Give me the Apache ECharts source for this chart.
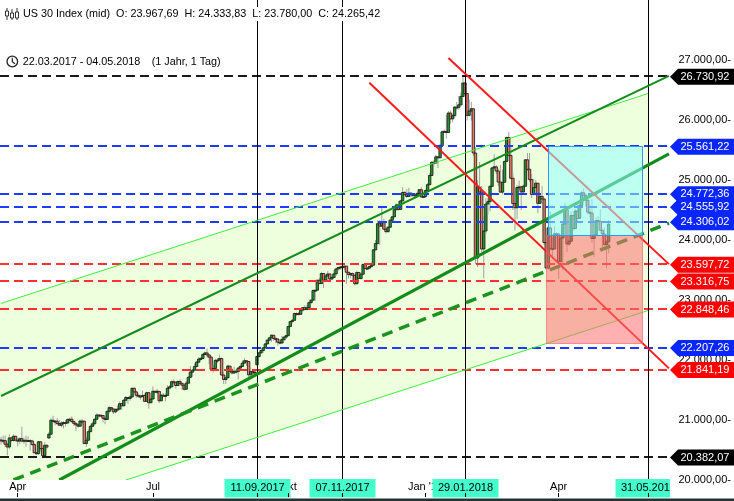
<!DOCTYPE html>
<html><head><meta charset="utf-8">
<script src="https://cdn.jsdelivr.net/npm/echarts@6/dist/echarts.min.js"></script>
<style>html,body{margin:0;padding:0;background:#fff;}#c{width:734px;height:501px;}</style>
</head><body><div id="c"></div>
<script>
// ================= DATA =================
const instrument = 'US 30 Index (mid)';
const periodNote = '(1 Jahr, 1 Tag)';
const startDate = '2017-03-22';
const axisEndDate = '2018-06-14';

// daily candles, one per weekday from startDate
const opens = [
20668,20661,20656, 20596,20550,20701,20659,20728, 20663,20650,20689,20648,20662, 20656,20658,20651,20591,20453,
20440,20637,20524,20404,20578, 20700,20763,20996,20975,20981, 20941,20913,20950,20958,20951, 21007,21013,20975,20943,20919,
20897,20982,20980,20607,20663, 20805,20895,20937,21012,21083, 21080,21075,21029,21009,21144, 21206,21184,21136,21174,21182,
21272,21236,21329,21375,21360, 21384,21529,21468,21411,21397, 21395,21409,21311,21455,21288, 21350,21479,21470,21478,21320,
21414,21409,21409,21532,21553, 21638,21630,21575,21641,21611, 21580,21513,21613,21711,21797, 21830,21891,21964,22016,22026,
22092,22118,22085,22048,21844, 21858,21993,21998,22025,21750, 21675,21703,21899,21812,21783, 21814,21808,21865,21892,21948,
21988,21975,21753,21807,21784, 21920,22057,22119,22158,22203, 22268,22331,22370,22412,22359, 22349,22296,22284,22340,22381,
22405,22557,22641,22661,22775, 22774,22761,22831,22872,22841, 22871,22957,22997,23158,23163, 23329,23274,23441,23330,23400,
23434,23349,23377,23436,23517, 23539,23549,23557,23564,23462, 23422,23440,23410,23272,23458, 23358,23430,23591,23526,23530,
23558,23580,23836,23940,24272, 24231,24290,24180,24140,24212, 24329,24386,24504,24585,24509, 24651,24792,24754,24726,24782,
24754,24750,24746,24774,24838, 24719,24725,24824,24922,25075, 25296,25283,25386,25370,25575, 25803,25810,25792,26116,26018,
26072,26215,26211,26253,26393, 26617,26440,26077,26149,26187, 25450,23700,24880,24800,23850, 24150,24600,24640,24893,25201,
25219,25150,24965,24798,24962, 25310,25709,25410,25029,24608, 24538,24875,24885,24801,24896, 25336,25179,25008,24759,24874,
24947,24611,24727,24683,23958, 23533,24202,23857,23849,24103, 24100,23644,24033,24265,24505, 23933,23979,24408,24190,24483,
24360,24573,24786,24748,24665, 24463,24449,24025,24084,24323, 24311,24163,24100,23925,23967.69];
const highs = [
20720,20740,20740, 20610,20760,20720,20760,20740, 20700,20710,20890,20710,20740, 20730,20680,20670,20620,20470,
20650,20640,20590,20630,20600, 20800,21030,21070,21000,21030, 21000,20980,20980,21000,21030, 21040,21060,20990,20950,20930,
21010,21020,20990,20720,20840, 20920,20970,21030,21110,21100, 21090,21080,21060,21160,21230, 21220,21190,21200,21240,21310,
21290,21350,21400,21380,21410, 21540,21540,21490,21440,21420, 21490,21440,21470,21470,21400, 21560,21490,21520,21480,21440,
21450,21440,21580,21580,21660, 21680,21640,21660,21680,21620, 21600,21650,21730,21900,21850, 21940,21990,22050,22050,22110,
22140,22190,22090,22060,21920, 22020,22030,22090,22040,21800, 21730,21920,21900,21860,21890, 21850,21880,21920,21990,22030,
21995,21980,21860,21840,21840, 22070,22130,22170,22220,22280, 22350,22380,22430,22420,22390, 22360,22350,22400,22390,22420,
22570,22650,22690,22790,22790, 22800,22850,22880,22910,22920, 22970,23010,23180,23170,23340, 23370,23460,23450,23440,23480,
23440,23400,23500,23530,23560, 23570,23600,23580,23570,23470, 23460,23460,23420,23490,23470, 23450,23610,23600,23550,23570,
23620,23850,24000,24330,24330, 24540,24350,24200,24230,24350, 24400,24550,24610,24650,24670, 24880,24820,24850,24870,24790,
24770,24780,24800,24850,24880, 24740,24840,24950,25110,25310, 25330,25420,25390,25600,25830, 25840,26090,26150,26160,26100,
26230,26300,26400,26460,26730, 26640,26440,26340,26300,26200, 25550,25000,25300,24900,24400, 24700,24700,24920,25220,25430,
25250,25190,25250,25170,25320, 25720,25800,25550,25120,24620, 24920,24990,24900,24920,25350, 25450,25450,25100,25020,25000,
24950,24780,24900,24700,24090, 24240,24480,24050,24230,24130, 24120,24050,24300,24620,24520, 24360,24480,24420,24520,24620,
24600,24820,24860,24750,24670, 24590,24680,24120,24380,24400, 24510,24170,24210,24000,24333.83];
const lows = [
20590,20610,20550, 20410,20520,20630,20640,20640, 20560,20600,20630,20600,20560, 20630,20490,20570,20450,20420,
20420,20480,20382,20400,20510, 20690,20760,20950,20910,20920, 20900,20880,20860,20890,20930, 20970,20950,20900,20820,20870,
20890,20920,20600,20550,20650, 20800,20880,20920,21000,21040, 21060,20960,20930,21000,21110, 21160,21100,21110,21140,21160,
21170,21230,21290,21270,21320, 21380,21450,21370,21370,21340, 21380,21300,21300,21190,21280, 21340,21450,21430,21280,21310,
21380,21310,21400,21510,21540, 21610,21520,21570,21580,21500, 21490,21510,21600,21700,21720, 21820,21880,21940,21990,22010,
22080,22040,21930,21830,21790, 21850,21950,21990,21740,21600, 21600,21700,21780,21760,21770, 21770,21680,21840,21890,21940,
21900,21710,21740,21720,21750, 21910,22040,22100,22120,22180, 22260,22310,22300,22320,22280, 22240,22260,22270,22310,22350,
22400,22550,22610,22650,22730, 22740,22750,22800,22830,22840, 22870,22930,22990,22990,23160, 23260,23270,23200,23320,23330,
23320,23340,23370,23400,23480, 23500,23510,23500,23270,23360, 23360,23330,23240,23260,23350, 23340,23420,23510,23510,23510,
23540,23570,23820,23930,23920, 24220,24170,24110,24120,24200, 24310,24380,24500,24490,24500, 24650,24730,24700,24720,24720,
24740,24690,24720,24760,24700, 24700,24700,24800,24910,25060, 25220,25270,25200,25360,25560, 25790,25690,25780,25940,25960,
26030,26160,26170,26240,26380, 26400,25990,26060,25990,25400, 23600,23550,24750,23800,23360, 24100,24420,24480,24890,25180,
25100,24900,24780,24760,24950, 25300,25380,25010,24500,24160, 24350,24820,24500,24750,24890, 25150,24970,24700,24740,24860,
24450,24600,24650,23920,23510, 23500,23820,23700,23840,24080, 23350,23620,23500,24250,23800, 23900,23970,24150,24180,24300,
24350,24560,24700,24550,24420, 24380,23950,23720,24070,24250, 24150,23830,23900,23530,23780.00];
const closes = [
20661,20656,20596, 20550,20701,20659,20728,20663, 20650,20689,20648,20662,20656, 20658,20651,20591,20453,20440,
20637,20524,20404,20578,20548, 20763,20996,20975,20981,20941, 20913,20950,20958,20951,21007, 21013,20975,20943,20919,20897,
20982,20980,20607,20663,20805, 20895,20937,21012,21083,21080, 21075,21029,21009,21144,21206, 21184,21136,21174,21182,21272,
21236,21329,21375,21360,21384, 21529,21468,21411,21397,21395, 21409,21311,21455,21288,21350, 21479,21470,21478,21320,21414,
21409,21409,21532,21553,21638, 21630,21575,21641,21611,21580, 21513,21613,21711,21797,21830, 21891,21964,22016,22026,22092,
22118,22085,22048,21844,21858, 21993,21998,22025,21750,21675, 21703,21899,21812,21783,21814, 21808,21865,21892,21948,21988,
21975,21753,21807,21784,21798, 22057,22119,22158,22203,22268, 22331,22370,22412,22359,22349, 22296,22284,22340,22381,22405,
22557,22641,22661,22775,22774, 22761,22831,22872,22841,22871, 22957,22997,23158,23163,23329, 23274,23441,23330,23400,23434,
23349,23377,23436,23517,23539, 23549,23557,23564,23462,23422, 23440,23410,23272,23458,23358, 23430,23591,23526,23530,23558,
23580,23836,23940,24272,24231, 24290,24180,24140,24212,24329, 24386,24504,24585,24509,24651, 24792,24754,24726,24782,24754,
24750,24746,24774,24838,24719, 24725,24824,24922,25075,25296, 25283,25386,25370,25575,25803, 25810,25792,26116,26018,26072,
26215,26211,26253,26393,26617, 26440,26077,26149,26187,25450, 23700,24880,24800,23850,24150, 24600,24640,24893,25201,25219,
25150,24965,24798,24962,25310, 25709,25410,25029,24608,24538, 24875,24885,24801,24896,25336, 25179,25008,24759,24874,24947,
24611,24727,24683,23958,23533, 24202,23857,23849,24103,24100, 23644,24033,24265,24505,23933, 23979,24408,24190,24483,24360,
24573,24786,24748,24665,24463, 24449,24025,24084,24323,24311, 24163,24100,23925,23968,24265.42];

// horizontal price levels
const blackLevels = [26730.92, 20382.07];
const blueLevels  = [25561.22, 24772.36, 24555.92, 24306.02, 22207.26];
const redLevels   = [23597.72, 23316.75, 22848.46, 21841.19];

// trend lines [date, value] -> [date, value]
const greenUpper   = [['2017-03-22', 21400], ['2018-06-14', 26735]];
const greenMiddle  = [['2017-05-01', 20000], ['2018-06-14', 25435]];
const greenDashed  = [['2017-03-30', 20000], ['2018-06-14', 24280]];
const channelTop   = [['2017-03-22', 22943], ['2018-05-31', 26442]];
const channelBottom= [['2017-06-14', 20000], ['2018-05-31', 22825]];
const redUpper     = [['2018-01-17', 27033], ['2018-06-14', 23598]];
const redLower     = [['2017-11-24', 26622], ['2018-06-14', 21860]];

// boxes [date, value] -> [date, value]
const targetBox = [['2018-03-26', 25561.22], ['2018-05-28', 24083]];
const stopBox   = [['2018-03-23', 24083], ['2018-05-28', 22280]];

// vertical date markers
const markerDates = ['2017-09-11', '2017-11-07', '2018-01-29', '2018-05-31'];
// month ticks on the time axis
const monthTickDates  = ['2017-04-03', '2017-07-03', '2017-10-02', '2018-01-02', '2018-04-02'];
const monthTickLabels = ['Apr', 'Jul', 'Okt', "Jan '18", 'Apr'];

const Y_MIN = 20000, Y_MAX = 28000, Y_STEP = 1000;

// ================= HELPERS =================
function weekdays(a, b) {
  const out = []; const d = new Date(a + 'T00:00:00Z'); const e = new Date(b + 'T00:00:00Z');
  while (d <= e) { const w = d.getUTCDay(); if (w !== 0 && w !== 6) out.push(d.toISOString().slice(0, 10)); d.setUTCDate(d.getUTCDate() + 1); }
  return out;
}
function de(v) { const s = v.toFixed(2).split('.'); return s[0].replace(/\B(?=(\d{3})+(?!\d))/g, '.') + ',' + s[1]; }
function dmy(d) { const p = d.split('-'); return p[2] + '.' + p[1] + '.' + p[0]; }

const dates = weekdays(startDate, axisEndDate);
const ix = d => dates.indexOf(d);
const FONT = '"Liberation Sans", Arial, sans-serif';
const F11 = '11px ' + FONT;
const FT = '10.8px ' + FONT;
const measure = (() => { const c = document.createElement('canvas').getContext('2d'); c.font = F11; return t => c.measureText(t).width; })();

const candleData = opens.map((o, i) => [i, o, closes[i], lows[i], highs[i]]);
const n = candleData.length;
const lastDate = dates[n - 1];
const headerText = instrument + '  O: ' + de(opens[n - 1]) + '  H: ' + de(highs[n - 1]) + '  L: ' + de(lows[n - 1]) + '  C: ' + de(closes[n - 1]);

const levelData = [];
blackLevels.forEach(v => levelData.push({ value: [0, v], kind: 'black' }));
blueLevels.forEach(v => levelData.push({ value: [0, v], kind: 'blue' }));
redLevels.forEach(v => levelData.push({ value: [0, v], kind: 'red' }));
const levelStroke = { black: '#1a1a1a', blue: '#1e3cff', red: '#ff3030' };
const levelTag = { black: '#000000', blue: '#0a26ff', red: '#ff0000' };

const seg = (l, style) => ({ value: [ix(l[0][0]), l[0][1], ix(l[1][0]), l[1][1]], style });
const trendData = [
  seg(channelTop, { stroke: '#3cf03c', lineWidth: 1 }),
  seg(channelBottom, { stroke: '#3cf03c', lineWidth: 1 }),
  seg(greenUpper, { stroke: '#138c1b', lineWidth: 2 }),
  seg(greenMiddle, { stroke: '#138c1b', lineWidth: 3.2 }),
  seg(greenDashed, { stroke: '#1a941f', lineWidth: 3.5, lineDash: [11, 7] }),
  seg(redUpper, { stroke: '#ff1a1a', lineWidth: 2 }),
  seg(redLower, { stroke: '#ff1a1a', lineWidth: 2 })
];
const markerData = markerDates.map(d => ({ value: [ix(d), Y_MIN], label: dmy(d) }));
const boxData = [
  { value: [ix(stopBox[0][0]), stopBox[0][1], ix(stopBox[1][0]), stopBox[1][1]], fill: 'rgba(255,112,112,0.55)', stroke: 'rgba(240,110,110,0.7)' },
  { value: [ix(targetBox[0][0]), targetBox[0][1], ix(targetBox[1][0]), targetBox[1][1]], fill: 'rgba(150,255,255,0.55)', stroke: '#2b98ff' }
];
const monthIdx = monthTickDates.map(ix);
const tickIdx = monthIdx.concat(markerDates.map(ix));

const chart = echarts.init(document.getElementById('c'), null, { width: 734, height: 501 });

const option = {
  animation: false,
  backgroundColor: '#ffffff',
  textStyle: { fontFamily: FONT },
  grid: { left: 0, right: 62, top: 0, bottom: 21, containLabel: false },
  xAxis: [{
    type: 'category', data: dates, boundaryGap: true,
    axisLine: { show: false }, axisTick: { show: false }, splitLine: { show: false },
    axisLabel: {
      interval: (i) => monthIdx.indexOf(i) >= 0,
      formatter: (v, i) => monthTickLabels[monthIdx.indexOf(i)] || '',
      margin: 1, fontSize: 11, color: '#000', fontFamily: FONT
    }
  }, {
    type: 'category', data: dates, boundaryGap: true, position: 'bottom', offset: 17, z: 10,
    axisLine: { show: false }, splitLine: { show: false }, axisLabel: { show: false },
    axisTick: { show: true, inside: true, length: 4, alignWithLabel: true, interval: (i) => tickIdx.indexOf(i) >= 0, lineStyle: { color: '#000', width: 1 } }
  }],
  yAxis: {
    type: 'value', position: 'right', min: Y_MIN, max: Y_MAX, interval: Y_STEP,
    axisLine: { show: false }, axisTick: { show: false }, splitLine: { show: false },
    axisLabel: { formatter: v => de(v) + '-', align: 'right', margin: 61, fontSize: 11, color: '#000', fontFamily: FONT, showMaxLabel: false }
  },
  graphic: [
    { type: 'rect', z: 100, shape: { x: 21, y: 7, width: 357, height: 14 }, style: { fill: '#fff' } },
    // candlestick icon
    { type: 'group', z: 101, children: [
      { type: 'line', shape: { x1: 7, y1: 8, x2: 7, y2: 20 }, style: { stroke: '#333', lineWidth: 1 } },
      { type: 'rect', shape: { x: 5.5, y: 11, width: 3, height: 5 }, style: { fill: '#fff', stroke: '#333', lineWidth: 1 } },
      { type: 'line', shape: { x1: 12, y1: 9, x2: 12, y2: 20 }, style: { stroke: '#333', lineWidth: 1 } },
      { type: 'rect', shape: { x: 10.5, y: 13, width: 3, height: 5 }, style: { fill: '#fff', stroke: '#333', lineWidth: 1 } },
      { type: 'line', shape: { x1: 17, y1: 8, x2: 17, y2: 20 }, style: { stroke: '#333', lineWidth: 1 } },
      { type: 'rect', shape: { x: 15.5, y: 12, width: 3, height: 6 }, style: { fill: '#fff', stroke: '#333', lineWidth: 1 } }
    ] },
    { type: 'text', z: 101, x: 23, y: 14, style: { text: headerText, font: FT, fill: '#000', verticalAlign: 'middle' } },
    // clock icon
    { type: 'circle', z: 101, shape: { cx: 12.3, cy: 61.5, r: 5.3 }, style: { fill: 'none', stroke: '#222', lineWidth: 1.3 } },
    { type: 'polyline', z: 101, shape: { points: [[12.3, 57.8], [12.3, 61.8], [15, 63.8]] }, style: { fill: 'none', stroke: '#222', lineWidth: 1.2 } },
    { type: 'text', z: 101, x: 22.7, y: 62, style: { text: dmy(startDate) + ' - ' + dmy(lastDate), font: FT, fill: '#000', verticalAlign: 'middle' } },
    { type: 'text', z: 101, x: 151.7, y: 62, style: { text: periodNote, font: FT, fill: '#000', verticalAlign: 'middle' } },
    // bottom frame strip
    { type: 'rect', z: 100, shape: { x: 0, y: 498.5, width: 734, height: 3 }, style: { fill: '#253232' } }
  ],
  series: [
    { // channel fill
      type: 'custom', z: 1, silent: true, clip: true, data: [[0, Y_MIN]], encode: { x: 0, y: 1 },
      renderItem: (p, api) => {
        const t0 = [ix(channelTop[0][0]), channelTop[0][1]], t1 = [ix(channelTop[1][0]), channelTop[1][1]];
        const b0 = [ix(channelBottom[0][0]), channelBottom[0][1]], b1 = [ix(channelBottom[1][0]), channelBottom[1][1]];
        const slope = (t1[1] - t0[1]) / (t1[0] - t0[0]);
        const tl = [t0[0] - 1, t0[1] - slope];
        const pts = [tl, t1, b1, b0, [tl[0], Y_MIN - 100]].map(q => api.coord(q));
        return { type: 'polygon', shape: { points: pts }, style: { fill: '#edffdd' } };
      }
    },
    { // candles
      type: 'custom', z: 2, silent: true, clip: true, data: candleData, encode: { x: 0, y: [1, 2, 3, 4] },
      renderItem: (p, api) => {
        const i = api.value(0), o = api.value(1), c = api.value(2), l = api.value(3), h = api.value(4);
        const po = api.coord([i, o]), yc = api.coord([i, c])[1], yl = api.coord([i, l])[1], yh = api.coord([i, h])[1];
        const x = po[0], top = Math.min(po[1], yc), bh = Math.max(Math.abs(po[1] - yc), 1);
        return { type: 'group', children: [
          { type: 'line', shape: { x1: x, y1: yh, x2: x, y2: yl }, style: { stroke: '#a0a0a0', lineWidth: 1 } },
          { type: 'rect', shape: { x: x - 1.2, y: top, width: 2.4, height: bh }, style: { fill: c >= o ? '#1f9a2a' : '#f07a68', stroke: '#151515', lineWidth: 0.8 } }
        ] };
      }
    },
    { // horizontal levels
      type: 'custom', z: 3, silent: true, clip: false, data: levelData, encode: { x: 0, y: 1 },
      renderItem: (p, api) => {
        const cs = p.coordSys; const y = Math.round(api.coord([0, api.value(1)])[1]);
        const k = levelData[p.dataIndex].kind;
        return { type: 'line', shape: { x1: cs.x, y1: y, x2: cs.x + cs.width, y2: y }, style: { stroke: levelStroke[k], lineWidth: 2, lineDash: [9, 5] } };
      }
    },
    { // vertical markers
      type: 'custom', z: 3, silent: true, clip: true, data: markerData, encode: { x: 0, y: 1 },
      renderItem: (p, api) => {
        const x = Math.round(api.coord([api.value(0), Y_MIN])[0]) + 0.5;
        const y0 = api.coord([api.value(0), Y_MIN])[1], y1 = api.coord([api.value(0), Y_MAX])[1];
        return { type: 'line', shape: { x1: x, y1: y0, x2: x, y2: y1 }, style: { stroke: '#000', lineWidth: 1 } };
      }
    },
    { // trend lines
      type: 'custom', z: 4, silent: true, clip: true, data: trendData, encode: { x: [0, 2], y: [1, 3] },
      renderItem: (p, api) => {
        const a = api.coord([api.value(0), api.value(1)]), b = api.coord([api.value(2), api.value(3)]);
        return { type: 'line', shape: { x1: a[0], y1: a[1], x2: b[0], y2: b[1] }, style: Object.assign({ lineCap: 'butt' }, trendData[p.dataIndex].style) };
      }
    },
    { // boxes
      type: 'custom', z: 5, silent: true, clip: true, data: boxData, encode: { x: [0, 2], y: [1, 3] },
      renderItem: (p, api) => {
        const a = api.coord([api.value(0), api.value(1)]), b = api.coord([api.value(2), api.value(3)]);
        const d = boxData[p.dataIndex];
        return { type: 'rect', shape: { x: Math.round(a[0]) + 0.5, y: Math.round(Math.min(a[1], b[1])) + 0.5, width: Math.round(Math.abs(b[0] - a[0])), height: Math.round(Math.abs(b[1] - a[1])) }, style: { fill: d.fill, stroke: d.stroke, lineWidth: 1 } };
      }
    },
    { // level tags on the right
      type: 'custom', z: 6, silent: true, clip: false, data: levelData, encode: { x: 0, y: 1 },
      renderItem: (p, api) => {
        const cs = p.coordSys; const gx = cs.x + cs.width; const W = api.getWidth();
        const v = api.value(1); const y = api.coord([0, v])[1] + 0.5;
        const k = levelData[p.dataIndex].kind;
        return { type: 'group', children: [
          { type: 'polygon', shape: { points: [[gx, y], [gx + 8, y - 8], [W, y - 8], [W, y + 8], [gx + 8, y + 8]] }, style: { fill: levelTag[k] } },
          { type: 'text', style: { text: de(v), x: gx + 10.5, y: y, font: F11, fill: '#fff', align: 'left', verticalAlign: 'middle' } }
        ] };
      }
    },
    { // date tags at the bottom
      type: 'custom', z: 6, silent: true, clip: false, data: markerData, encode: { x: 0, y: 1 },
      renderItem: (p, api) => {
        const cs = p.coordSys; const gx = cs.x + cs.width;
        const cx = Math.round(api.coord([api.value(0), Y_MIN])[0]) + 0.5;
        const top = cs.y + cs.height - 1, bottom = api.getHeight() - 3.5;
        const left = cx - 33, right = Math.min(cx + 33, gx);
        const label = markerData[p.dataIndex].label; const tw = measure(label);
        const tx = cx - tw / 2;
        return { type: 'group', children: [
          { type: 'rect', shape: { x: left, y: top, width: right - left, height: bottom - top }, style: { fill: '#44ffcc' } },
          { type: 'text', style: { text: label, x: tx, y: (top + bottom) / 2, font: F11, fill: '#000', align: 'left', verticalAlign: 'middle', width: right - tx + 3, overflow: 'truncate', ellipsis: '' } }
        ] };
      }
    }
  ]
};
chart.setOption(option);
</script>
</body></html>
